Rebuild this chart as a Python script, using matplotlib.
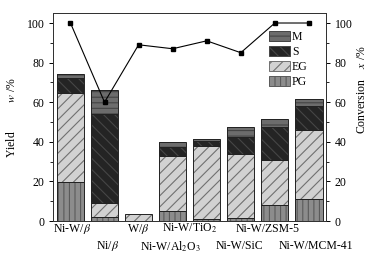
import numpy as np
import matplotlib.pyplot as plt

plt.rcParams['font.family'] = ['Liberation Serif', 'DejaVu Serif']
plt.rcParams['mathtext.fontset'] = 'stix'
plt.rcParams['hatch.linewidth'] = 0.8

catalysts = [r'Ni-W/$\beta$', r'Ni/$\beta$', r'W/$\beta$', r'Ni-W/Al$_2$O$_3$',
             r'Ni-W/TiO$_2$', 'Ni-W/SiC', 'Ni-W/ZSM-5', 'Ni-W/MCM-41']
pg = [19.5, 2.0, 0.0, 5.2, 1.0, 1.7, 8.0, 11.0]
eg = [45.0, 7.0, 3.4, 27.6, 37.0, 32.1, 23.0, 34.8]
s = [7.5, 45.2, 0.0, 4.6, 2.5, 8.6, 16.5, 12.1]
m = [2.0, 11.8, 0.0, 2.3, 0.8, 5.1, 3.9, 3.6]
conversion = [100, 60, 89, 87, 91, 85, 100, 100]

# label placement: row (0 top / 1 bottom) and x offset from bar centre
label_row = [0, 1, 0, 1, 0, 1, 0, 1]
label_dx = [0.05, 0.1, 0.0, -0.08, -0.5, -0.05, -0.2, 0.2]

fig = plt.figure(figsize=(3.79, 2.57), dpi=100)
ax = fig.add_axes([0.141, 0.140, 0.719, 0.809])
x = np.arange(len(catalysts))
w = 0.8

styles = [('PG', pg, '#8c8c8c', '#5a5a5a', '|||'),
          ('EG', eg, '#d2d2d2', '#707070', '///'),
          ('S', s, '#242424', '#464646', '\\\\\\'),
          ('M', m, '#6c6c6c', '#444444', '---')]
bottom = np.zeros(len(x))
handles = {}
for name, vals, fc, hc, hatch in styles:
    vals = np.array(vals)
    keep = vals > 0
    h = ax.bar(x[keep], vals[keep], w, bottom=bottom[keep], color=fc,
               edgecolor=hc, hatch=hatch, linewidth=0)
    ax.bar(x[keep], vals[keep], w, bottom=bottom[keep], fill=False,
           edgecolor='#222222', linewidth=0.7)
    handles[name] = h
    bottom += vals

ax.set_xlim(-0.5, 7.5)
ax.set_ylim(0, 105)
ax.set_yticks(range(0, 101, 20))
ax.set_yticks(range(10, 101, 20), minor=True)
ax.set_xticks([])
ax.tick_params(axis='y', labelsize=8.5, direction='out', length=3, width=0.7)
ax.tick_params(axis='y', which='minor', length=2, width=0.6)
for sp in ax.spines.values():
    sp.set_linewidth(0.7)
    sp.set_color('#333333')

for i, lab in enumerate(catalysts):
    yy = -0.036 if label_row[i] == 0 else -0.122
    ax.text(x[i] + label_dx[i], yy, lab, transform=ax.get_xaxis_transform(),
            ha='center', va='center', fontsize=8.5)

ax.set_ylabel(r'Yield          $w$ /%', fontsize=8.5)
ax.yaxis.set_label_coords(-0.13, 0.5)

ax2 = ax.twinx()
ax2.plot(x, conversion, color='black', lw=0.8, marker='s', ms=3.5)
ax2.set_ylim(0, 105)
ax2.set_yticks(range(0, 101, 20))
ax2.set_yticks(range(10, 101, 20), minor=True)
ax2.tick_params(axis='y', labelsize=8.5, direction='out', length=3, width=0.7)
ax2.tick_params(axis='y', which='minor', length=2, width=0.6)
ax2.set_ylabel(r'Conversion    $x$ /%', fontsize=8.5)
ax2.yaxis.set_label_coords(1.112, 0.63)
for sp in ax2.spines.values():
    sp.set_linewidth(0.7)
    sp.set_color('#333333')

leg = ax2.legend([handles['M'], handles['S'], handles['EG'], handles['PG']],
                 ['M', 'S', 'EG', 'PG'], loc='upper right',
                 bbox_to_anchor=(0.95, 0.935), frameon=False, fontsize=8.5,
                 handlelength=1.8, handleheight=0.9, handletextpad=0.15,
                 labelspacing=0.25, borderaxespad=0)
for p in leg.get_patches():
    p.set_linewidth(0.7)

fig.savefig('out.png', dpi=100)
